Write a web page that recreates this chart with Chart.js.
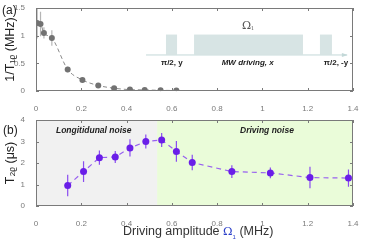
<!DOCTYPE html>
<html>
<head>
<meta charset="utf-8">
<script src="https://cdn.jsdelivr.net/npm/chart.js@4.4.1/dist/chart.umd.min.js"></script>
<style>
  body { margin: 0; background: #fff; }
  #wrap { position: relative; width: 365px; height: 241px; font-family: "Liberation Sans", Arial, sans-serif; }
  canvas { position: absolute; left: 0; }
  .tag { position: absolute; font-size: 12px; color: #222; }
  #xtitle { position: absolute; left: 123px; top: 224px; font-size: 12.5px; color: #333; white-space: nowrap; }
  #xtitle .om { color: #2b3fc8; font-family: "DejaVu Serif", serif; font-size: 11.5px; }
  #xtitle sub { font-size: 6px; color: #2b3fc8; }
</style>
</head>
<body>
<div id="wrap">
  <canvas id="rate-chart" width="365" height="112" style="top:0"></canvas>
  <canvas id="time-chart" width="365" height="129" style="top:112px"></canvas>
  <div class="tag" style="left:2px; top:3px">(a)</div>
  <div class="tag" style="left:3px; top:123px">(b)</div>
  <div id="xtitle">Driving amplitude <span class="om">Ω</span><sub>1</sub> (MHz)</div>
</div>
<script>
// (a) relaxation rate 1/T1rho vs driving amplitude
const driveA = [0.005, 0.02, 0.035, 0.07, 0.14, 0.205, 0.275, 0.345, 0.415, 0.48, 0.55, 0.62];
const rateA = [1.23, 1.21, 1.05, 0.96, 0.39, 0.2, 0.1, 0.05, 0.025, 0.02, 0.012, 0.01];
const rateErrA = [0.28, 0.22, 0.1, 0.14, 0.05, 0.03, 0.02, 0.02, 0.015, 0.015, 0.015, 0.015];

// (b) coherence time T2rho vs driving amplitude
const driveB = [0.14, 0.21, 0.28, 0.35, 0.415, 0.485, 0.555, 0.62, 0.69, 0.865, 1.035, 1.21, 1.38];
const timeB = [0.95, 1.6, 2.25, 2.28, 2.7, 3.0, 3.07, 2.54, 2.02, 1.6, 1.54, 1.32, 1.3];
const timeErrB = [0.5, 0.48, 0.33, 0.28, 0.4, 0.32, 0.33, 0.48, 0.36, 0.3, 0.25, 0.5, 0.4];

const xTicks = [0, 0.2, 0.4, 0.6, 0.8, 1, 1.2, 1.4];
const yTicksA = [0, 0.5, 1, 1.5];
const yTicksB = [0, 1, 2, 3, 4];
const noiseSplit = 0.535; // longitudinal / driving noise boundary

const tickFont = { family: 'Liberation Sans', size: 8 };
const tickColor = '#7a7a7a';

function fmt(v) {
    return String(+v.toFixed(1));
}

// MATLAB-like box with inward ticks on all sides
const boxPlugin = {
    id: 'box',
    afterDraw(chart) {
        const { ctx, chartArea: a, scales: { x, y } } = chart;
        ctx.save();
        ctx.strokeStyle = '#7a7a7a';
        ctx.lineWidth = 1;
        ctx.strokeRect(a.left + 0.5, a.top + 0.5, a.right - a.left - 1, a.bottom - a.top - 1);
        ctx.beginPath();
        x.ticks.forEach(t => {
            const px = Math.round(x.getPixelForValue(t.value)) + 0.5;
            ctx.moveTo(px, a.bottom); ctx.lineTo(px, a.bottom - 3);
            ctx.moveTo(px, a.top); ctx.lineTo(px, a.top + 3);
        });
        y.ticks.forEach(t => {
            const py = Math.round(y.getPixelForValue(t.value)) + 0.5;
            ctx.moveTo(a.left, py); ctx.lineTo(a.left + 3, py);
            ctx.moveTo(a.right, py); ctx.lineTo(a.right - 3, py);
        });
        ctx.stroke();
        ctx.restore();
    }
};

// vertical error bars from an error array stored on the dataset
const errorBarPlugin = {
    id: 'errbars',
    beforeDatasetsDraw(chart) {
        const { ctx, scales: { x, y } } = chart;
        chart.data.datasets.forEach(ds => {
            if (!ds.errors) return;
            ctx.save();
            ctx.strokeStyle = ds.errorColor;
            ctx.lineWidth = 1.2;
            ctx.beginPath();
            ds.data.forEach((p, i) => {
                const px = x.getPixelForValue(p.x);
                ctx.moveTo(px, Math.max(y.getPixelForValue(p.y + ds.errors[i]), chart.chartArea.top));
                ctx.lineTo(px, y.getPixelForValue(p.y - ds.errors[i]));
            });
            ctx.stroke();
            ctx.restore();
        });
    }
};

// pulse sequence sketch inside panel (a), placed in data units
const insetPlugin = {
    id: 'inset',
    afterDatasetsDraw(chart) {
        const { ctx, scales: { x, y } } = chart;
        const X = v => x.getPixelForValue(v);
        const Y = v => y.getPixelForValue(v);
        const base = Y(0.66), top = Y(1.02);
        ctx.save();
        ctx.fillStyle = '#d7e4e4';
        [[0.574, 0.623], [0.698, 1.179], [1.254, 1.307]].forEach(([a, b]) => {
            ctx.fillRect(X(a), top, X(b) - X(a), base - top);
        });
        ctx.strokeStyle = '#c3d8d8';
        ctx.lineWidth = 1;
        ctx.beginPath();
        ctx.moveTo(X(0.486), base + 0.5);
        ctx.lineTo(X(1.373), base + 0.5);
        ctx.stroke();
        ctx.beginPath();
        ctx.moveTo(X(1.373) + 1, base + 0.5);
        ctx.lineTo(X(1.373) - 5, base - 1.5);
        ctx.lineTo(X(1.373) - 5, base + 2.5);
        ctx.closePath();
        ctx.fillStyle = '#c3d8d8';
        ctx.fill();

        ctx.fillStyle = '#222';
        ctx.textAlign = 'center';
        ctx.textBaseline = 'middle';
        ctx.font = 'bold 8px "Liberation Sans"';
        ctx.fillText('π/2, y', X(0.6), base + 8);
        ctx.fillText('π/2, -y', X(1.325), base + 8);
        ctx.font = 'italic bold 8px "Liberation Sans"';
        ctx.fillText('MW driving, x', X(0.935), base + 8);
        ctx.fillStyle = '#555';
        ctx.font = '11px "DejaVu Serif"';
        ctx.fillText('Ω', X(0.93), Y(1.18));
        ctx.font = '5px "DejaVu Serif"';
        ctx.fillText('1', X(0.93) + 6, Y(1.18) + 3);
        ctx.restore();
    }
};

// shaded noise regions and their captions in panel (b)
const regionPlugin = {
    id: 'regions',
    beforeDatasetsDraw(chart) {
        const { ctx, chartArea: a, scales: { x } } = chart;
        const split = x.getPixelForValue(noiseSplit);
        ctx.save();
        ctx.fillStyle = '#f1f1f1';
        ctx.fillRect(a.left, a.top, split - a.left, a.bottom - a.top);
        ctx.fillStyle = '#eafcd9';
        ctx.fillRect(split, a.top, a.right - split, a.bottom - a.top);
        ctx.fillStyle = '#222';
        ctx.textAlign = 'center';
        ctx.textBaseline = 'middle';
        ctx.font = 'italic bold 8.5px "Liberation Sans"';
        ctx.fillText('Longitidunal noise', x.getPixelForValue(0.255), a.top + 11);
        ctx.fillText('Driving noise', x.getPixelForValue(1.02), a.top + 11);
        ctx.restore();
    }
};

function axes(yTicks, yMax, yTitle, xHeight) {
    return {
        x: {
            type: 'linear', min: 0, max: 1.4,
            afterBuildTicks: s => { s.ticks = xTicks.map(v => ({ value: v })); },
            afterFit: s => { s.height = xHeight; },
            grid: { display: false }, border: { display: false },
            ticks: { font: tickFont, color: tickColor, padding: 5, maxRotation: 0, callback: fmt }
        },
        y: {
            type: 'linear', min: 0, max: yMax,
            afterBuildTicks: s => { s.ticks = yTicks.map(v => ({ value: v })); },
            afterFit: s => { s.width = 36; },
            grid: { display: false }, border: { display: false },
            ticks: { font: tickFont, color: tickColor, padding: 3, callback: fmt },
            title: {
                display: true, text: yTitle, color: '#222',
                font: { family: 'Liberation Sans', size: 12.5 },
                padding: { top: 3, bottom: 0 }
            }
        }
    };
}

const common = {
    responsive: false,
    animation: false,
    layout: { padding: { top: 8, right: 12, left: 0, bottom: 0 } },
    plugins: { legend: { display: false }, tooltip: { enabled: false } }
};

new Chart(document.getElementById('rate-chart'), {
    type: 'scatter',
    data: {
        datasets: [{
            data: driveA.map((v, i) => ({ x: v, y: rateA[i] })),
            errors: rateErrA,
            errorColor: '#b5b5b5',
            showLine: true,
            borderColor: '#8a8a8a',
            borderWidth: 1,
            borderDash: [4, 3],
            cubicInterpolationMode: 'monotone',
            pointRadius: 3,
            pointBackgroundColor: '#727272',
            pointBorderWidth: 0
        }]
    },
    options: { ...common, scales: axes(yTicksA, 1.5, '1/T₁ᵨ (MHz)', 21) },
    plugins: [insetPlugin, errorBarPlugin, boxPlugin]
});

new Chart(document.getElementById('time-chart'), {
    type: 'scatter',
    data: {
        datasets: [{
            data: driveB.map((v, i) => ({ x: v, y: timeB[i] })),
            errors: timeErrB,
            errorColor: '#8a4cf0',
            showLine: true,
            borderColor: '#9860f0',
            borderWidth: 1.2,
            borderDash: [5, 4],
            pointRadius: 3.5,
            pointBackgroundColor: '#6a1ee8',
            pointBorderWidth: 0
        }]
    },
    options: { ...common, scales: axes(yTicksB, 4, 'T₂ᵨ (μs)', 35) },
    plugins: [regionPlugin, errorBarPlugin, boxPlugin]
});
</script>
</body>
</html>
